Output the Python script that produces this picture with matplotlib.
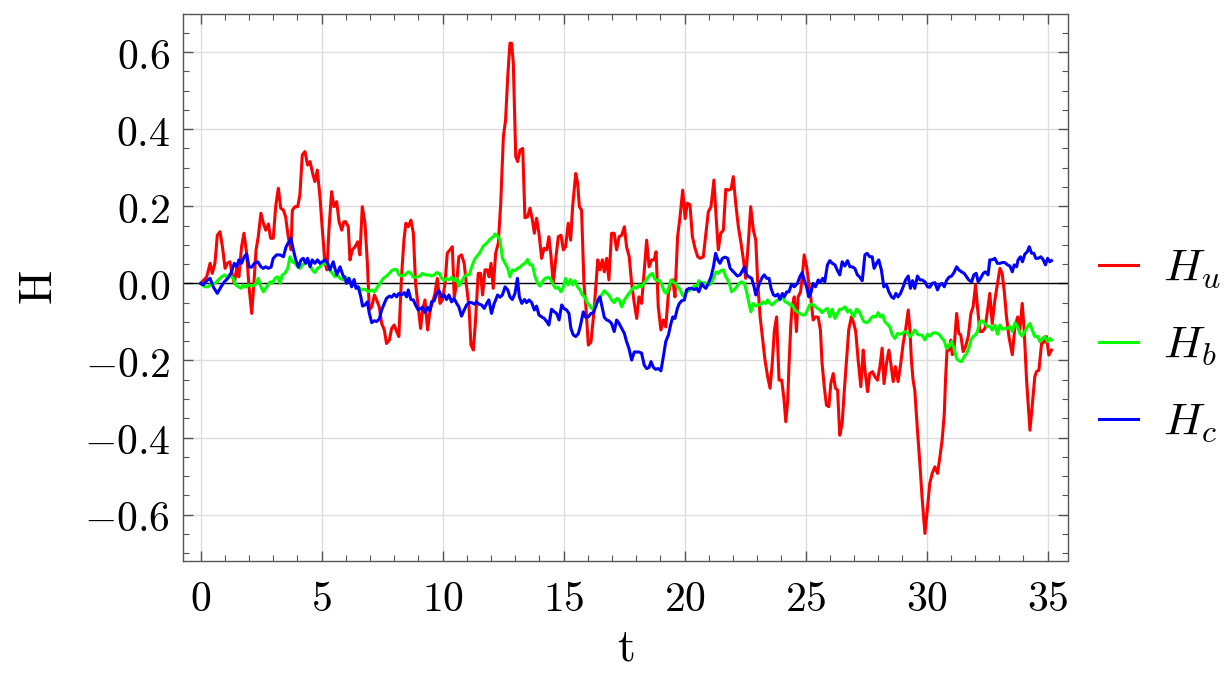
import numpy as np
import matplotlib
matplotlib.use("Agg")
import matplotlib.pyplot as plt
from matplotlib.ticker import MultipleLocator, FuncFormatter

plt.rcParams['mathtext.fontset'] = 'cm'
plt.rcParams['font.family'] = ['DejaVu Serif']

# H_u (red)
t_u = [0.00, 0.25, 0.39, 0.48, 0.59, 0.69, 0.80, 0.90, 1.01, 1.10, 1.21, 1.31, 1.39, 1.49, 1.58, 1.69,
       1.79, 1.90, 2.00, 2.11, 2.20, 2.29, 2.38, 2.49, 2.59, 2.69, 2.80, 2.89, 3.00, 3.10, 3.21, 3.31,
       3.42, 3.51, 3.62, 3.73, 3.79, 3.90, 4.01, 4.10, 4.20, 4.31, 4.42, 4.52, 4.63, 4.72, 4.82, 4.93,
       5.03, 5.14, 5.22, 5.30, 5.41, 5.51, 5.62, 5.72, 5.83, 5.92, 5.99, 6.10, 6.17, 6.27, 6.38, 6.49,
       6.58, 6.68, 6.79, 6.89, 6.97, 7.07, 7.18, 7.27, 7.38, 7.48, 7.59, 7.68, 7.80, 7.89, 8.00, 8.10,
       8.19, 8.30, 8.40, 8.48, 8.58, 8.69, 8.79, 8.88, 8.99, 9.09, 9.17, 9.27, 9.38, 9.48, 9.57, 9.68,
       9.78, 9.89, 9.99, 10.10, 10.19, 10.30, 10.40, 10.48, 10.58, 10.67, 10.78, 10.89, 10.99, 11.09,
       11.17, 11.27, 11.36, 11.47, 11.57, 11.65, 11.75, 11.85, 11.92, 12.00, 12.09, 12.19, 12.30,
       12.40, 12.51, 12.60, 12.69, 12.78, 12.85, 12.92, 13.02, 13.10, 13.20, 13.31, 13.40, 13.51,
       13.61, 13.71, 13.79, 13.88, 13.98, 14.09, 14.19, 14.30, 14.39, 14.48, 14.57, 14.67, 14.78,
       14.89, 14.99, 15.08, 15.19, 15.29, 15.37, 15.50, 15.58, 15.65, 15.74, 15.84, 15.92, 16.02,
       16.13, 16.23, 16.32, 16.41, 16.50, 16.60, 16.68, 16.78, 16.87, 16.98, 17.09, 17.19, 17.29,
       17.40, 17.51, 17.60, 17.71, 17.81, 17.92, 18.02, 18.11, 18.22, 18.29, 18.43, 18.53, 18.64,
       18.74, 18.82, 18.91, 19.02, 19.12, 19.22, 19.33, 19.42, 19.51, 19.60, 19.71, 19.81, 19.92,
       20.02, 20.11, 20.22, 20.32, 20.43, 20.54, 20.64, 20.77, 20.88, 20.98, 21.09, 21.21, 21.30,
       21.39, 21.49, 21.60, 21.70, 21.81, 21.92, 22.01, 22.11, 22.22, 22.33, 22.43, 22.52, 22.63,
       22.73, 22.84, 22.94, 23.02, 23.12, 23.21, 23.32, 23.43, 23.53, 23.62, 23.71, 23.80, 23.90,
       24.01, 24.11, 24.18, 24.26, 24.31, 24.39, 24.44, 24.53, 24.62, 24.69, 24.79, 24.86, 24.94,
       25.04, 25.13, 25.21, 25.31, 25.41, 25.52, 25.61, 25.68, 25.77, 25.86, 25.96, 26.04, 26.14,
       26.23, 26.32, 26.41, 26.51, 26.59, 26.69, 26.78, 26.89, 26.99, 27.07, 27.17, 27.28, 27.38,
       27.45, 27.56, 27.65, 27.76, 27.86, 27.97, 28.07, 28.16, 28.24, 28.34, 28.44, 28.52, 28.62,
       28.71, 28.82, 28.93, 29.03, 29.13, 29.24, 29.31, 29.37, 29.44, 29.51, 29.62, 29.72, 29.81,
       29.93, 30.04, 30.13, 30.23, 30.34, 30.45, 30.55, 30.64, 30.73, 30.78, 30.85, 30.93, 31.00,
       31.06, 31.14, 31.24, 31.33, 31.41, 31.51, 31.61, 31.72, 31.83, 31.92, 32.02, 32.10, 32.20,
       32.30, 32.41, 32.52, 32.61, 32.71, 32.82, 32.93, 33.03, 33.12, 33.21, 33.30, 33.40, 33.54,
       33.65, 33.76, 33.85, 33.95, 34.03, 34.13, 34.27, 34.36, 34.47, 34.54, 34.64, 34.75, 34.86,
       34.95, 35.05, 35.16]
H_u = [0.000, 0.017, 0.052, 0.026, 0.052, 0.125, 0.134, 0.095, 0.039, 0.052, 0.056, 0.022, 0.000, 0.039, 0.017, 0.095,
       0.130, 0.078, -0.009, -0.078, 0.000, 0.087, 0.121, 0.182, 0.156, 0.138, 0.154, 0.117, 0.117, 0.199, 0.247, 0.195,
       0.190, 0.173, 0.121, 0.087, 0.190, 0.199, 0.199, 0.229, 0.333, 0.342, 0.307, 0.316, 0.285, 0.264, 0.294, 0.225,
       0.138, 0.052, 0.035, 0.138, 0.238, 0.199, 0.212, 0.160, 0.138, 0.160, 0.160, 0.147, 0.061, 0.087, 0.095, 0.108,
       0.074, 0.199, 0.156, 0.052, -0.069, -0.061, -0.030, -0.043, -0.061, -0.104, -0.121, -0.156, -0.147, -0.117, -0.108, -0.125,
       -0.138, 0.017, 0.112, 0.156, 0.147, 0.164, 0.130, 0.000, -0.061, -0.117, -0.069, -0.043, -0.121, -0.069, -0.052, -0.026,
       0.013, -0.052, -0.043, 0.000, 0.078, 0.087, 0.095, -0.035, 0.000, 0.069, 0.074, 0.052, -0.009, -0.061,
       -0.160, -0.173, -0.095, 0.026, 0.026, -0.030, 0.035, 0.035, 0.017, 0.052, -0.013, 0.078, 0.104,
       0.208, 0.381, 0.424, 0.536, 0.623, 0.623, 0.571, 0.329, 0.316, 0.346, 0.350, 0.170, 0.173,
       0.195, 0.164, 0.130, 0.169, 0.130, 0.065, 0.091, 0.087, 0.121, 0.069, 0.000, 0.061, 0.121,
       0.125, 0.087, 0.095, 0.156, 0.112, 0.199, 0.285, 0.259, 0.199, 0.190, 0.000, -0.061, -0.160,
       -0.152, -0.087, -0.017, 0.061, 0.035, 0.061, 0.030, 0.065, 0.009, 0.130, 0.130, 0.087, 0.121,
       0.125, 0.147, 0.095, 0.069, 0.000, -0.052, -0.091, -0.035, -0.052, 0.000, 0.112, 0.043, 0.061,
       0.061, 0.082, -0.061, -0.121, -0.095, -0.113, -0.026, 0.000, 0.009, -0.035, 0.121, 0.173, 0.242,
       0.168, 0.208, 0.204, 0.121, 0.091, 0.069, 0.065, 0.069, 0.130, 0.186, 0.199, 0.268, 0.173,
       0.087, 0.130, 0.138, 0.244, 0.242, 0.244, 0.277, 0.208, 0.147, 0.104, 0.061, 0.013, 0.104,
       0.199, 0.138, 0.112, 0.000, -0.087, -0.138, -0.199, -0.242, -0.272, -0.208, -0.121, -0.087, -0.251,
       -0.251, -0.303, -0.359, -0.303, -0.216, -0.104, -0.061, -0.035, -0.125, -0.035, -0.022, 0.017, 0.074,
       0.043, 0.000, -0.035, -0.095, -0.087, -0.088, -0.121, -0.208, -0.268, -0.316, -0.320, -0.260, -0.234,
       -0.272, -0.277, -0.394, -0.363, -0.285, -0.199, -0.121, -0.087, -0.104, -0.125, -0.199, -0.268, -0.173,
       -0.225, -0.281, -0.234, -0.229, -0.242, -0.251, -0.216, -0.168, -0.260, -0.208, -0.173, -0.208, -0.255,
       -0.216, -0.255, -0.208, -0.156, -0.121, -0.069, -0.121, -0.199, -0.251, -0.277, -0.381, -0.467, -0.554,
       -0.649, -0.580, -0.519, -0.493, -0.476, -0.493, -0.450, -0.407, -0.338, -0.251, -0.164, -0.173, -0.147,
       -0.185, -0.164, -0.078, -0.130, -0.134, -0.177, -0.164, -0.138, -0.078, -0.061, -0.004, -0.061, -0.125,
       -0.125, -0.117, -0.069, -0.026, -0.104, -0.043, 0.000, 0.039, 0.026, -0.022, -0.087, -0.138, -0.185,
       -0.112, -0.087, -0.121, -0.052, -0.121, -0.251, -0.381, -0.320, -0.242, -0.229, -0.225, -0.156, -0.152,
       -0.138, -0.186, -0.173]

# H_b (green)
t_b = [0.00, 0.18, 0.32, 0.45, 0.59, 0.73, 0.87, 0.98, 1.07, 1.21, 1.35, 1.45, 1.56, 1.67, 1.76, 1.86,
       1.97, 2.11, 2.25, 2.38, 2.49, 2.59, 2.73, 2.87, 2.96, 3.07, 3.18, 3.28, 3.37, 3.48, 3.60, 3.69,
       3.79, 3.90, 4.01, 4.10, 4.20, 4.31, 4.42, 4.52, 4.61, 4.72, 4.83, 4.93, 5.03, 5.14, 5.25, 5.34,
       5.44, 5.55, 5.66, 5.76, 5.90, 5.96, 6.10, 6.24, 6.38, 6.51, 6.65, 6.79, 6.93, 7.07, 7.18, 7.27,
       7.41, 7.55, 7.68, 7.80, 7.89, 8.00, 8.10, 8.19, 8.30, 8.44, 8.58, 8.69, 8.79, 8.92, 9.06, 9.16,
       9.27, 9.41, 9.54, 9.65, 9.75, 9.86, 9.96, 10.07, 10.16, 10.27, 10.37, 10.48, 10.58, 10.67, 10.78,
       10.89, 10.99, 11.10, 11.20, 11.31, 11.40, 11.54, 11.68, 11.82, 11.95, 12.13, 12.16, 12.27, 12.37,
       12.47, 12.58, 12.69, 12.78, 12.88, 12.99, 13.10, 13.20, 13.29, 13.40, 13.51, 13.61, 13.71, 13.82,
       13.93, 14.02, 14.12, 14.23, 14.37, 14.48, 14.57, 14.67, 14.78, 14.89, 14.99, 15.08, 15.19, 15.29,
       15.37, 15.47, 15.57, 15.68, 15.77, 15.88, 15.95, 16.05, 16.16, 16.27, 16.36, 16.46, 16.57, 16.68,
       16.78, 16.87, 16.98, 17.09, 17.19, 17.29, 17.40, 17.51, 17.60, 17.70, 17.81, 17.92, 18.02, 18.11,
       18.22, 18.36, 18.46, 18.57, 18.67, 18.75, 18.85, 18.94, 19.05, 19.16, 19.26, 19.35, 19.44, 19.53,
       19.63, 19.71, 19.81, 19.91, 19.99, 20.08, 20.18, 20.29, 20.40, 20.50, 20.59, 20.70, 20.82, 20.91,
       21.01, 21.12, 21.21, 21.30, 21.39, 21.49, 21.60, 21.70, 21.78, 21.88, 21.94, 22.05, 22.15, 22.25,
       22.36, 22.47, 22.56, 22.66, 22.74, 22.84, 22.94, 23.05, 23.16, 23.25, 23.35, 23.43, 23.53, 23.62,
       23.74, 23.85, 23.94, 24.04, 24.15, 24.26, 24.35, 24.45, 24.55, 24.66, 24.76, 24.86, 24.97, 25.08,
       25.17, 25.27, 25.38, 25.49, 25.59, 25.68, 25.79, 25.90, 26.00, 26.10, 26.21, 26.32, 26.41, 26.51,
       26.62, 26.73, 26.83, 26.89, 26.99, 27.10, 27.20, 27.31, 27.40, 27.51, 27.61, 27.69, 27.79, 27.89,
       28.00, 28.09, 28.18, 28.27, 28.38, 28.48, 28.58, 28.69, 28.80, 28.89, 28.99, 29.10, 29.21, 29.31,
       29.40, 29.51, 29.62, 29.72, 29.81, 29.93, 30.04, 30.13, 30.23, 30.34, 30.45, 30.54, 30.64, 30.73,
       30.82, 30.92, 31.03, 31.13, 31.24, 31.33, 31.44, 31.55, 31.65, 31.74, 31.83, 31.92, 32.02, 32.10,
       32.20, 32.30, 32.41, 32.52, 32.61, 32.71, 32.82, 32.93, 33.03, 33.12, 33.23, 33.34, 33.44, 33.54,
       33.65, 33.76, 33.85, 33.95, 34.06, 34.17, 34.27, 34.36, 34.47, 34.58, 34.68, 34.78, 34.89, 35.00,
       35.09, 35.16]
H_b = [0.000, -0.009, -0.009, 0.000, 0.000, 0.009, 0.017, 0.022, 0.017, 0.022, 0.013, -0.004, -0.009, -0.013, -0.004, -0.010,
       -0.004, -0.007, -0.004, 0.013, -0.009, -0.022, -0.009, 0.004, 0.000, 0.013, 0.017, 0.000, 0.022, 0.026, 0.039, 0.069,
       0.056, 0.052, 0.043, 0.039, 0.048, 0.052, 0.056, 0.048, 0.035, 0.028, 0.039, 0.043, 0.052, 0.052, 0.048, 0.035,
       0.026, 0.017, 0.022, 0.013, 0.009, 0.017, 0.013, 0.000, -0.004, -0.009, -0.017, -0.015, -0.022, -0.017, -0.022, -0.013,
       0.000, 0.013, 0.019, 0.026, 0.033, 0.036, 0.036, 0.022, 0.019, 0.022, 0.030, 0.026, 0.016, 0.016, 0.019, 0.026,
       0.022, 0.022, 0.019, 0.022, 0.028, 0.026, 0.013, 0.007, 0.013, 0.009, 0.016, 0.007, 0.013, -0.007, 0.004,
       0.017, 0.022, 0.022, 0.043, 0.061, 0.069, 0.080, 0.097, 0.104, 0.114, 0.123, 0.128, 0.123, 0.113,
       0.065, 0.052, 0.039, 0.017, 0.035, 0.033, 0.039, 0.042, 0.048, 0.052, 0.062, 0.048, 0.048, 0.017,
       0.000, -0.007, 0.004, 0.013, 0.016, 0.009, -0.004, -0.013, -0.010, -0.022, -0.009, 0.013, -0.004, 0.010,
       -0.004, 0.007, -0.009, -0.017, -0.030, -0.035, -0.048, -0.056, -0.065, -0.061, -0.048, -0.039, -0.030, -0.019,
       -0.026, -0.030, -0.043, -0.050, -0.039, -0.042, -0.061, -0.043, -0.035, -0.026, -0.017, -0.009, -0.013, -0.004,
       -0.009, 0.004, 0.013, 0.022, 0.026, 0.013, 0.007, 0.009, -0.002, -0.022, -0.026, -0.009, 0.009, 0.004,
       0.000, -0.009, -0.016, -0.030, -0.035, -0.022, -0.019, -0.013, -0.007, -0.009, 0.007, 0.000, 0.002, -0.002,
       -0.004, 0.002, 0.017, 0.030, 0.026, 0.033, 0.035, 0.017, 0.009, -0.007, -0.022, -0.016, -0.009, 0.000,
       0.004, 0.000, -0.022, -0.052, -0.074, -0.052, -0.059, -0.056, -0.054, -0.048, -0.052, -0.043, -0.052, -0.056,
       -0.048, -0.043, -0.039, -0.035, -0.048, -0.050, -0.056, -0.056, -0.069, -0.074, -0.078, -0.082, -0.082, -0.069,
       -0.056, -0.054, -0.059, -0.065, -0.069, -0.076, -0.069, -0.065, -0.087, -0.067, -0.091, -0.078, -0.067, -0.067,
       -0.061, -0.074, -0.069, -0.076, -0.087, -0.067, -0.071, -0.087, -0.099, -0.102, -0.099, -0.091, -0.085, -0.087,
       -0.076, -0.087, -0.082, -0.099, -0.106, -0.113, -0.134, -0.143, -0.130, -0.132, -0.130, -0.125, -0.128, -0.138,
       -0.132, -0.121, -0.132, -0.134, -0.134, -0.147, -0.132, -0.137, -0.130, -0.128, -0.130, -0.134, -0.143, -0.149,
       -0.169, -0.164, -0.151, -0.169, -0.195, -0.201, -0.203, -0.190, -0.182, -0.169, -0.147, -0.138, -0.134, -0.125,
       -0.099, -0.097, -0.104, -0.112, -0.111, -0.121, -0.108, -0.132, -0.108, -0.119, -0.117, -0.117, -0.112, -0.125,
       -0.102, -0.112, -0.130, -0.137, -0.125, -0.112, -0.104, -0.121, -0.138, -0.137, -0.151, -0.143, -0.138, -0.151,
       -0.143, -0.147]

# H_c (blue)
t_c = [0.00, 0.11, 0.25, 0.39, 0.52, 0.69, 0.84, 0.98, 1.12, 1.25, 1.39, 1.49, 1.58, 1.69, 1.80, 1.90,
       2.00, 2.11, 2.22, 2.36, 2.49, 2.59, 2.69, 2.80, 2.91, 3.00, 3.14, 3.28, 3.42, 3.53, 3.65, 3.73,
       3.83, 3.93, 4.04, 4.15, 4.24, 4.34, 4.42, 4.52, 4.61, 4.72, 4.83, 4.93, 5.03, 5.14, 5.25, 5.34,
       5.48, 5.62, 5.76, 5.90, 5.94, 6.03, 6.13, 6.24, 6.34, 6.42, 6.51, 6.62, 6.69, 6.79, 6.89, 6.97,
       7.07, 7.18, 7.27, 7.38, 7.48, 7.59, 7.68, 7.80, 7.89, 8.00, 8.10, 8.19, 8.30, 8.42, 8.51, 8.58,
       8.69, 8.79, 8.88, 8.99, 9.09, 9.17, 9.27, 9.38, 9.48, 9.54, 9.65, 9.75, 9.85, 9.96, 10.07, 10.16,
       10.26, 10.37, 10.47, 10.58, 10.67, 10.78, 10.89, 10.99, 11.10, 11.20, 11.31, 11.40, 11.50, 11.61,
       11.72, 11.82, 11.91, 12.02, 12.13, 12.16, 12.27, 12.37, 12.47, 12.58, 12.69, 12.78, 12.88, 12.99,
       13.09, 13.17, 13.27, 13.38, 13.47, 13.57, 13.68, 13.79, 13.88, 13.98, 14.09, 14.20, 14.30, 14.39,
       14.50, 14.62, 14.71, 14.81, 14.92, 15.01, 15.12, 15.22, 15.30, 15.40, 15.50, 15.61, 15.70, 15.81,
       15.91, 16.02, 16.13, 16.23, 16.32, 16.43, 16.50, 16.60, 16.68, 16.78, 16.87, 16.98, 17.09, 17.19,
       17.29, 17.40, 17.51, 17.60, 17.70, 17.81, 17.92, 18.02, 18.11, 18.22, 18.33, 18.43, 18.53, 18.61,
       18.71, 18.80, 18.91, 19.02, 19.12, 19.22, 19.33, 19.42, 19.51, 19.60, 19.70, 19.78, 19.88, 19.99,
       20.08, 20.18, 20.29, 20.40, 20.50, 20.59, 20.70, 20.80, 20.88, 20.98, 21.09, 21.19, 21.28, 21.37,
       21.46, 21.56, 21.67, 21.78, 21.88, 21.97, 22.08, 22.18, 22.29, 22.39, 22.47, 22.56, 22.66, 22.77,
       22.87, 22.94, 23.02, 23.12, 23.21, 23.29, 23.39, 23.49, 23.57, 23.67, 23.76, 23.85, 23.94, 24.04,
       24.12, 24.22, 24.31, 24.42, 24.53, 24.66, 24.76, 24.86, 24.94, 25.04, 25.13, 25.21, 25.31, 25.41,
       25.52, 25.61, 25.70, 25.79, 25.90, 26.00, 26.10, 26.21, 26.30, 26.41, 26.51, 26.62, 26.73, 26.83,
       26.92, 27.03, 27.14, 27.24, 27.34, 27.45, 27.54, 27.65, 27.75, 27.83, 27.93, 28.02, 28.13, 28.23,
       28.34, 28.44, 28.55, 28.64, 28.73, 28.82, 28.92, 29.03, 29.13, 29.24, 29.33, 29.42, 29.51, 29.62,
       29.72, 29.81, 29.93, 30.04, 30.13, 30.23, 30.34, 30.45, 30.54, 30.64, 30.73, 30.82, 30.92, 31.03,
       31.13, 31.24, 31.33, 31.44, 31.55, 31.65, 31.74, 31.86, 31.95, 32.05, 32.13, 32.23, 32.34, 32.43,
       32.54, 32.61, 32.71, 32.82, 32.92, 33.03, 33.12, 33.23, 33.34, 33.44, 33.54, 33.62, 33.72, 33.78,
       33.88, 33.96, 34.06, 34.16, 34.24, 34.34, 34.43, 34.51, 34.61, 34.72, 34.82, 34.91, 35.00, 35.09,
       35.16]
H_c = [0.000, -0.004, 0.007, 0.013, -0.009, -0.026, -0.009, 0.004, 0.013, 0.026, 0.052, 0.043, 0.061, 0.052, 0.069, 0.076,
       0.043, 0.042, 0.052, 0.056, 0.043, 0.039, 0.043, 0.039, 0.042, 0.065, 0.074, 0.074, 0.069, 0.095, 0.108, 0.117,
       0.087, 0.061, 0.042, 0.061, 0.065, 0.052, 0.065, 0.043, 0.061, 0.052, 0.061, 0.052, 0.056, 0.061, 0.052, 0.035,
       0.056, 0.022, 0.043, 0.017, 0.017, 0.000, 0.013, -0.009, 0.010, -0.013, -0.009, -0.035, -0.059, -0.056, -0.048, -0.078,
       -0.102, -0.097, -0.099, -0.093, -0.069, -0.052, -0.039, -0.033, -0.036, -0.028, -0.035, -0.026, -0.030, -0.024, -0.035, -0.017,
       -0.042, -0.043, -0.056, -0.069, -0.065, -0.062, -0.076, -0.062, -0.071, -0.048, -0.045, -0.026, -0.019, -0.035, -0.030, -0.042,
       -0.030, -0.048, -0.039, -0.052, -0.061, -0.085, -0.069, -0.056, -0.050, -0.050, -0.054, -0.048, -0.054, -0.056,
       -0.065, -0.052, -0.043, -0.078, -0.052, -0.048, -0.030, -0.036, -0.030, -0.009, -0.017, -0.035, -0.042, -0.026,
       0.013, -0.035, -0.052, -0.042, -0.050, -0.043, -0.050, -0.069, -0.059, -0.082, -0.087, -0.091, -0.099, -0.108,
       -0.067, -0.074, -0.078, -0.095, -0.056, -0.065, -0.069, -0.078, -0.117, -0.134, -0.138, -0.130, -0.108, -0.074,
       -0.088, -0.087, -0.078, -0.076, -0.061, -0.042, -0.035, -0.065, -0.088, -0.095, -0.097, -0.104, -0.125, -0.095,
       -0.104, -0.117, -0.130, -0.151, -0.169, -0.199, -0.178, -0.178, -0.178, -0.181, -0.212, -0.221, -0.218, -0.203,
       -0.218, -0.223, -0.221, -0.227, -0.190, -0.151, -0.134, -0.108, -0.087, -0.091, -0.065, -0.052, -0.045, -0.043,
       -0.017, -0.013, -0.013, -0.016, -0.013, -0.022, 0.000, -0.009, -0.013, 0.000, 0.017, 0.043, 0.078, 0.061,
       0.052, 0.065, 0.068, 0.065, 0.039, 0.033, 0.026, 0.019, 0.022, 0.033, 0.042, 0.022, 0.017, 0.013,
       -0.009, -0.030, -0.013, 0.004, 0.016, 0.022, 0.013, 0.013, -0.013, -0.030, -0.033, -0.028, -0.042, -0.026,
       -0.035, -0.022, -0.022, -0.002, -0.009, 0.000, 0.017, 0.028, 0.009, -0.009, -0.035, -0.026, 0.000, -0.009,
       0.009, 0.002, 0.013, 0.004, 0.048, 0.059, 0.052, 0.048, 0.035, 0.022, 0.056, 0.045, 0.059, 0.043,
       0.043, 0.039, 0.022, 0.016, 0.007, 0.074, 0.078, 0.069, 0.069, 0.039, 0.052, 0.061, 0.035, -0.009,
       -0.004, -0.022, -0.035, -0.039, -0.026, -0.035, -0.026, -0.009, 0.009, 0.019, -0.013, 0.007, -0.013, 0.019,
       0.009, 0.009, 0.004, -0.009, -0.010, 0.000, 0.002, -0.017, -0.004, 0.000, -0.009, 0.007, 0.016, 0.019,
       0.028, 0.043, 0.035, 0.030, 0.026, 0.017, 0.009, 0.004, 0.022, 0.026, 0.004, 0.013, 0.026, 0.030,
       0.022, 0.061, 0.061, 0.065, 0.052, 0.052, 0.054, 0.054, 0.048, 0.045, 0.030, 0.048, 0.043, 0.061,
       0.069, 0.056, 0.076, 0.082, 0.095, 0.078, 0.078, 0.065, 0.065, 0.069, 0.061, 0.048, 0.065, 0.056,
       0.059]

series = [(t_u, H_u, '#ff0000', r'$H_u$'),
          (t_b, H_b, '#00ff00', r'$H_b$'),
          (t_c, H_c, '#0000ff', r'$H_c$')]

fig = plt.figure(figsize=(12.25, 6.8), dpi=100)
ax = fig.add_axes([0.1491, 0.1746, 0.7229, 0.8049])
ax.set_axisbelow(True)

ax.axhline(0, color='black', lw=1.0, zorder=2)
for t, h, c, lab in series:
    ax.plot(t, h, color=c, lw=2.2, label=lab, zorder=3)

ax.set_xlim(-0.744, 35.85)
ax.set_ylim(-0.721, 0.699)

ax.xaxis.set_major_locator(MultipleLocator(5))
ax.xaxis.set_minor_locator(MultipleLocator(1))
ax.yaxis.set_major_locator(MultipleLocator(0.2))
ax.yaxis.set_minor_locator(MultipleLocator(0.05))
ax.xaxis.set_major_formatter(FuncFormatter(lambda v, p: r'$%d$' % round(v)))
ax.yaxis.set_major_formatter(FuncFormatter(lambda v, p: r'$%.1f$' % (0.0 if abs(v) < 1e-9 else v)))

ax.grid(True, which='major', color='#dddddd', lw=1.0)
ax.tick_params(which='both', direction='in', top=True, right=True, color='#555555', labelsize=30)
ax.tick_params(which='major', length=7.5, width=1.0)
ax.tick_params(which='minor', length=4.5, width=0.8)
ax.tick_params(axis='x', pad=12)
ax.tick_params(axis='y', pad=9)
for s in ax.spines.values():
    s.set_color('#555555')
    s.set_linewidth(1.0)

ax.set_xlabel(r'$\mathrm{t}$', fontsize=33, labelpad=4)
ax.set_ylabel(r'$\mathrm{H}$', fontsize=33, labelpad=16)

leg = ax.legend(loc='center left', bbox_to_anchor=(0.897, 0.492), bbox_transform=fig.transFigure,
                frameon=False, fontsize=33, handlelength=0.85, handletextpad=0.55,
                labelspacing=0.7, borderpad=0, borderaxespad=0)

fig.savefig('out.png', dpi=100)
